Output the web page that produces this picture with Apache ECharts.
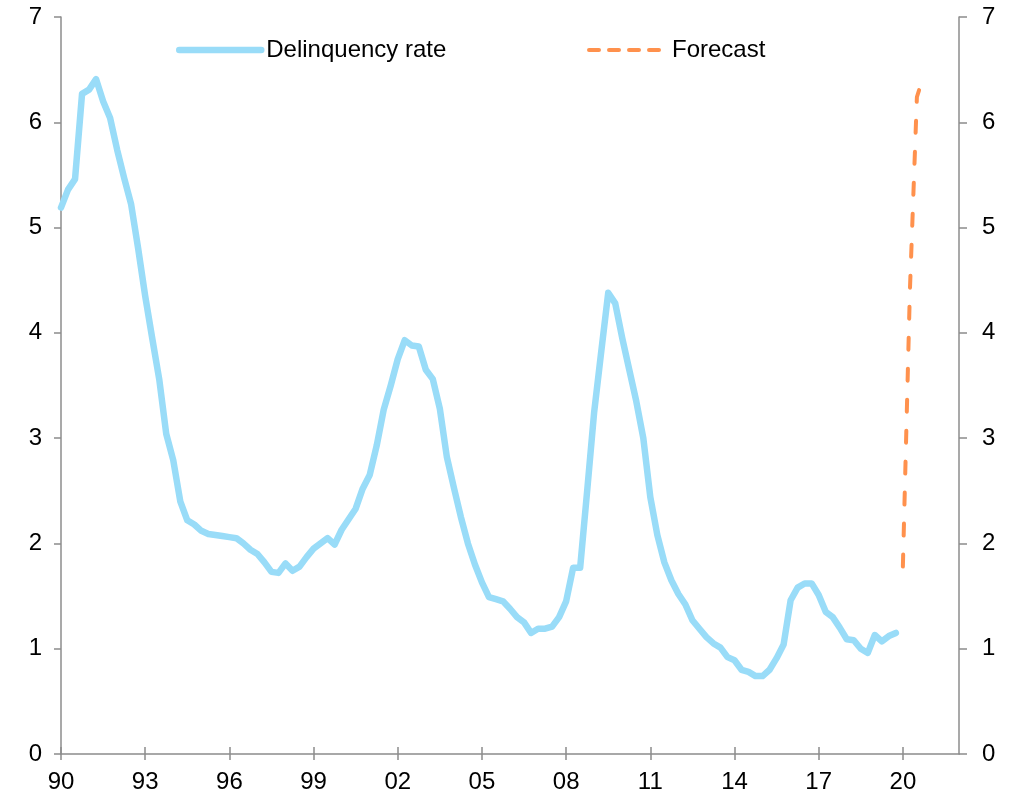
<!DOCTYPE html>
<html>
<head>
<meta charset="utf-8">
<script src="https://cdn.jsdelivr.net/npm/echarts@6/dist/echarts.min.js"></script>
<style>
html,body{margin:0;padding:0;background:#fff;}
#chart{width:1012px;height:797px;}
</style>
</head>
<body>
<div id="chart"></div>
<script>
// Quarterly categories 1990Q1 .. 2022Q1
const quarters = [];
for (let y = 1990; y <= 2022; y++) {
  for (let q = 1; q <= 4; q++) {
    if (y === 2022 && q > 1) break;
    quarters.push(y + 'Q' + q);
  }
}
const tickLabels = ['90','93','96','99','02','05','08','11','14','17','20'];

// Delinquency rate, 1990Q1 .. 2019Q4
const delinquency = [
  5.19, 5.36, 5.46, 6.27, 6.31, 6.41, 6.20, 6.04, 5.74, 5.47,
  5.22, 4.80, 4.35, 3.95, 3.56, 3.04, 2.79, 2.40, 2.22, 2.18,
  2.12, 2.09, 2.08, 2.07, 2.06, 2.05, 2.00, 1.94, 1.90, 1.82,
  1.73, 1.72, 1.81, 1.74, 1.78, 1.87, 1.95, 2.00, 2.05, 1.99,
  2.13, 2.23, 2.33, 2.52, 2.65, 2.93, 3.27, 3.50, 3.75, 3.93,
  3.88, 3.87, 3.65, 3.56, 3.28, 2.82, 2.53, 2.25, 2.00, 1.80,
  1.63, 1.49, 1.47, 1.45, 1.38, 1.30, 1.25, 1.15, 1.19, 1.19,
  1.21, 1.30, 1.45, 1.77, 1.77, 2.50, 3.25, 3.82, 4.38, 4.28,
  3.95, 3.65, 3.35, 3.00, 2.44, 2.08, 1.82, 1.65, 1.52, 1.42,
  1.27, 1.19, 1.11, 1.05, 1.01, 0.92, 0.89, 0.80, 0.78, 0.74,
  0.74, 0.80, 0.91, 1.04, 1.46, 1.58, 1.62, 1.62, 1.51, 1.35,
  1.30, 1.20, 1.09, 1.08, 1.00, 0.96, 1.13, 1.07, 1.12, 1.15
];
// Forecast, 2020Q1 .. 2020Q4
const forecastStart = 120;
const forecastValues = [1.78, 4.40, 6.24, 6.45];

const forecast = quarters.map((_, i) =>
  (i >= forecastStart && i < forecastStart + forecastValues.length) ? forecastValues[i - forecastStart] : null);

const AXIS = '#8c8c8c';
const FONT = 'Liberation Sans, Arial, sans-serif';
const BLUE = '#99dcf8';
const ORANGE = '#ff914d';

const chart = echarts.init(document.getElementById('chart'), null, {renderer: 'canvas'});
const tickInterval = (i) => i % 12 === 0 && i <= 120;
chart.setOption({
  animation: false,
  backgroundColor: '#ffffff',
  grid: {left: 61, right: 53, top: 17, bottom: 43, containLabel: false},
  legend: [
    {
      data: ['Delinquency rate'], left: 171, top: 33, itemWidth: 82, itemHeight: 24, itemGap: 0,
      textStyle: {fontFamily: FONT, fontSize: 24, color: '#000'}, selectedMode: false,
      itemStyle: {opacity: 0},
      lineStyle: {width: 6.5, cap: 'round', color: BLUE}
    },
    {
      data: ['Forecast'], left: 582, top: 33, itemWidth: 78, itemHeight: 24, itemGap: 0,
      textStyle: {fontFamily: FONT, fontSize: 24, color: '#000'}, selectedMode: false,
      itemStyle: {opacity: 0},
      lineStyle: {type: [10, 10], width: 4, cap: 'round', color: ORANGE}
    }
  ],
  xAxis: [
    {
      type: 'category', data: quarters, boundaryGap: false, position: 'bottom',
      axisLine: {lineStyle: {color: AXIS, width: 1.5}},
      axisTick: {show: true, interval: tickInterval, length: 6, lineStyle: {color: AXIS, width: 1.5}},
      axisLabel: {
        interval: tickInterval, margin: 16,
        formatter: (v, i) => tickLabels[i / 12] || '',
        fontFamily: FONT, fontSize: 24, color: '#000'
      },
      splitLine: {show: false}
    },
    {
      type: 'category', data: quarters, boundaryGap: false, position: 'bottom', gridIndex: 0,
      axisLine: {show: false},
      axisTick: {show: true, inside: true, interval: tickInterval, length: 7, lineStyle: {color: AXIS, width: 1.5}},
      axisLabel: {show: false},
      splitLine: {show: false}
    }
  ],
  yAxis: [
    {
      type: 'value', min: 0, max: 7, interval: 1, position: 'left',
      axisLine: {show: true, lineStyle: {color: AXIS, width: 1.5}},
      axisTick: {show: true, length: 7, lineStyle: {color: AXIS, width: 1.5}},
      axisLabel: {margin: 19, fontFamily: FONT, fontSize: 24, color: '#000'},
      splitLine: {show: false}
    },
    {
      type: 'value', min: 0, max: 7, interval: 1, position: 'right',
      axisLine: {show: true, lineStyle: {color: AXIS, width: 1.5}},
      axisTick: {show: true, length: 8, lineStyle: {color: AXIS, width: 1.5}},
      axisLabel: {margin: 23, fontFamily: FONT, fontSize: 24, color: '#000'},
      splitLine: {show: false}
    }
  ],
  series: [
    {
      name: 'Delinquency rate', type: 'line', data: delinquency, xAxisIndex: 0, yAxisIndex: 0,
      symbol: 'none', color: BLUE,
      lineStyle: {color: BLUE, width: 6.5, join: 'round', cap: 'round'}
    },
    {
      name: 'Forecast', type: 'line', data: forecast, xAxisIndex: 0, yAxisIndex: 0,
      symbol: 'none', color: ORANGE, connectNulls: false,
      lineStyle: {color: ORANGE, width: 4, type: [12, 19], cap: 'round'}
    }
  ]
});
</script>
</body>
</html>
